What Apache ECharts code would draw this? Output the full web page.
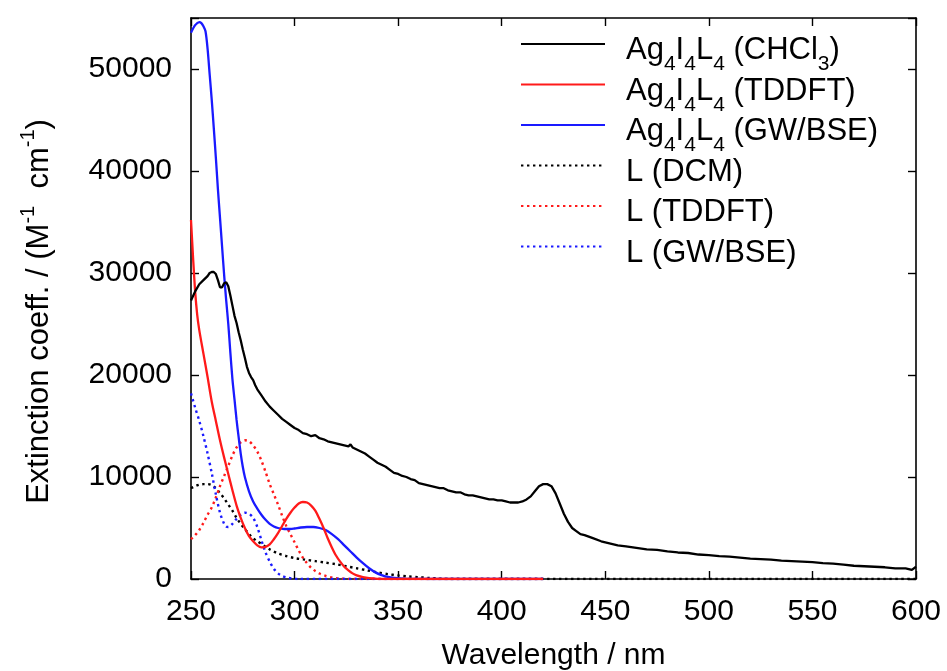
<!DOCTYPE html>
<html>
<head>
<meta charset="utf-8">
<script src="https://cdn.jsdelivr.net/npm/echarts@6/dist/echarts.min.js"></script>
<style>
html,body{margin:0;padding:0;background:#fff;}
#chart{width:947px;height:671px;}
</style>
</head>
<body>
<div id="chart"></div>
<script>
// ---------- DATA ----------
var xTicks = [250, 300, 350, 400, 450, 500, 550, 600];
var yTicks = [0, 10000, 20000, 30000, 40000, 50000];

// Ag4I4L4 (CHCl3) experimental
var wlExp = [250,252,254,256,258,259,260,261,262,263,264,265,266,267,268,269,270,271,272,273,274,275,276,277,278,279,280,281,282,283,284,286,288,290,292,294,296,298,300,302,304,306,308,310,312,314,316,318,320,322,324,326,327,328,330,332,334,336,338,340,342,344,346,348,350,352,354,356,358,360,362,364,366,368,370,372,374,376,378,380,382,384,386,388,390,392,394,396,398,400,402,404,406,408,410,412,414,416,418,420,422,424,426,428,430,432,434,436,438,440,444,448,452,456,460,465,470,475,480,485,490,495,500,505,510,515,520,525,530,535,540,545,550,555,560,565,570,575,580,585,590,595,598,600];
var epsExp = [27300,28200,28900,29300,29700,30000,30100,30100,29900,29300,28600,28600,29000,29100,28700,27800,26800,25800,25100,24200,23400,22500,21700,20800,20200,19800,19500,19000,18600,18300,18000,17400,16900,16500,16100,15700,15400,15100,14800,14600,14300,14200,14000,14100,13800,13700,13500,13400,13300,13200,13100,13000,13200,12900,12700,12500,12300,12000,11700,11400,11200,11000,10700,10400,10300,10100,10000,9800,9700,9400,9300,9200,9100,9000,8900,8900,8700,8600,8500,8500,8300,8200,8200,8100,8000,7900,7800,7800,7700,7700,7600,7500,7500,7500,7600,7800,8100,8600,9100,9300,9300,9100,8400,7400,6400,5600,5000,4700,4400,4300,4000,3700,3500,3300,3200,3050,2900,2850,2700,2600,2550,2400,2350,2250,2200,2100,2000,1950,1900,1800,1750,1700,1650,1550,1500,1400,1300,1250,1200,1150,1050,1050,900,1200];

// Ag4I4L4 (TDDFT)
var wlTdC = [250,251,252,253,254,256,258,260,262,264,266,268,270,272,274,276,278,280,282,284,286,288,290,292,294,296,298,300,302,304,306,308,310,312,314,316,318,320,322,324,326,328,330,333,336,340,345,420];
var epsTdC = [35200,31500,28200,25900,24400,22100,19800,17400,15500,13600,11900,10300,8700,7200,6000,5000,4200,3700,3300,3100,3150,3400,3900,4500,5200,5900,6500,7000,7400,7550,7500,7200,6700,5900,5000,4000,3100,2300,1700,1200,850,550,350,180,80,20,0,0];

// Ag4I4L4 (GW/BSE)
var wlGwC = [250,252,254,255,256,257,258,259,260,261,262,263,264,265,266,267,268,269,270,271,272,273,274,275,276,278,280,282,284,286,288,290,292,295,298,300,303,306,309,312,315,318,321,324,327,330,333,336,339,342,345,348,352,358,365,420];
var epsGwC = [53550,54300,54600,54500,54200,53700,52000,49500,47000,44200,41300,38200,35400,32600,29800,27300,25000,22200,19600,17600,15600,13900,12300,11000,10000,8600,7600,6900,6300,5800,5400,5150,5000,4900,4900,4950,5050,5100,5100,5000,4800,4400,3900,3300,2700,2100,1550,1050,650,380,200,100,40,10,0,0];

// L (DCM)
var wlLdcm = [250,252,254,256,258,260,262,264,266,268,270,272,274,276,278,280,282,285,288,292,296,300,305,310,315,320,325,330,335,340,345,350,355,360,365,370,375,600];
var epsLdcm = [8900,9100,9250,9300,9300,9200,8900,8400,7900,7300,6700,6000,5400,4900,4400,4000,3700,3300,2900,2500,2250,2050,1900,1750,1600,1450,1250,1050,850,650,480,350,250,180,100,40,0,0];

// L (TDDFT)
var wlLtd = [250,252,254,256,258,260,262,264,266,268,270,272,274,276,278,280,282,284,286,288,290,292,294,296,298,300,302,304,306,308,310,312,315,318,322,328,420];
var epsLtd = [3900,4300,4800,5500,6300,7000,8000,9100,10100,11100,12100,12900,13400,13600,13500,13100,12500,11600,10500,9300,8300,7300,6200,5200,4400,3600,2800,2100,1550,1100,780,540,300,150,50,0,0];

// L (GW/BSE)
var wlLgw = [250,252,254,256,258,260,262,264,266,267,268,270,272,274,276,278,280,282,284,286,288,290,292,294,296,299,302,420];
var epsLgw = [18200,16800,15500,14000,12300,10400,8300,6500,5400,5150,5100,5400,5900,6300,6500,6400,6000,5100,3800,2600,1700,1000,560,300,150,40,0,0];

var seriesNames = ['Ag4I4L4 (CHCl3)', 'Ag4I4L4 (TDDFT)', 'Ag4I4L4 (GW/BSE)', 'L (DCM)', 'L (TDDFT)', 'L (GW/BSE)'];
var legendRich = {
  'Ag4I4L4 (CHCl3)': '{n|Ag}{s|4}{n|I}{s|4}{n|L}{s|4}{n| (CHCl}{s|3}{n|)}',
  'Ag4I4L4 (TDDFT)': '{n|Ag}{s|4}{n|I}{s|4}{n|L}{s|4}{n| (TDDFT)}',
  'Ag4I4L4 (GW/BSE)': '{n|Ag}{s|4}{n|I}{s|4}{n|L}{s|4}{n| (GW/BSE)}',
  'L (DCM)': '{n|L (DCM)}',
  'L (TDDFT)': '{n|L (TDDFT)}',
  'L (GW/BSE)': '{n|L (GW/BSE)}'
};

function pairs(xs, ys) { return xs.map(function (x, i) { return [x, ys[i]]; }); }

var FONT = '"Liberation Sans", Arial, Helvetica, sans-serif';
var FS = 30;
var RED = '#ff1a1a', BLUE = '#1a1aff', BLACK = '#000000';

var chart = echarts.init(document.getElementById('chart'), null, {renderer: 'canvas'});

function lineSeries(name, xs, ys, color, dotted, smooth, z) {
  return {
    name: name, type: 'line', data: pairs(xs, ys),
    showSymbol: false, symbol: 'none', smooth: smooth, z: z,
    lineStyle: {color: color, width: dotted ? 2.4 : 2.3, type: dotted ? [2.4, 3.6] : 'solid'},
    itemStyle: {color: color},
    emphasis: {disabled: true}, animation: false
  };
}

var axisCommon = {
  axisLine: {show: true, onZero: false, lineStyle: {color: '#000', width: 1.6}},
  axisTick: {show: true, inside: true, length: 8, lineStyle: {color: '#000', width: 1.4}},
  splitLine: {show: false}
};

chart.setOption({
  backgroundColor: '#fff',
  animation: false,
  textStyle: {fontFamily: FONT},
  grid: {left: 191, right: 31, top: 18, bottom: 92, containLabel: false, outerBoundsMode: 'none'},
  legend: {
    orient: 'vertical', left: 520, top: 29, itemWidth: 84, itemHeight: 30, itemGap: -6.5,
    align: 'left', padding: 0,
    itemStyle: {opacity: 0},
    data: seriesNames,
    formatter: function (name) { return legendRich[name]; },
    textStyle: {
      fontFamily: FONT, color: '#000', padding: [0, 0, 0, 16],
      rich: {
        n: {fontSize: 31, fontFamily: FONT, color: '#000', lineHeight: 30, padding: [6, 0, 10, 0], verticalAlign: 'top'},
        s: {fontSize: 21, fontFamily: FONT, color: '#000', lineHeight: 14, padding: [25, 0, 0, 0], verticalAlign: 'top'}
      }
    }
  },
  xAxis: [
    Object.assign({
      type: 'value', min: 250, max: 600, interval: 50, position: 'bottom',
      name: 'Wavelength / nm', nameLocation: 'middle', nameGap: 62,
      nameTextStyle: {fontSize: FS, fontFamily: FONT, color: '#000'},
      axisLabel: {fontSize: FS, fontFamily: FONT, color: '#000', margin: 18,
        formatter: function (v) { return String(v); }}
    }, axisCommon),
    Object.assign({
      type: 'value', min: 250, max: 600, interval: 50, position: 'top',
      axisLabel: {show: false}
    }, axisCommon)
  ],
  yAxis: [
    Object.assign({
      type: 'value', min: 0, max: 55000, interval: 10000, position: 'left',
      name: '{n|Extinction coeff. / (M}{p|-1}{n|  cm}{p|-1}{n|)}',
      nameLocation: 'middle', nameGap: 142,
      nameTextStyle: {
        fontSize: 31, fontFamily: FONT, color: '#000', padding: [0, 26, 0, 0],
        rich: {
          n: {fontSize: 31, fontFamily: FONT, color: '#000', lineHeight: 31, padding: [6, 0, 0, 0], verticalAlign: 'top'},
          p: {fontSize: 20, fontFamily: FONT, color: '#000', lineHeight: 20, verticalAlign: 'top'}
        }
      },
      axisLabel: {fontSize: FS, fontFamily: FONT, color: '#000', margin: 19,
        formatter: function (v) { return v > 50000 ? '' : String(v); }}
    }, axisCommon),
    Object.assign({
      type: 'value', min: 0, max: 55000, interval: 10000, position: 'right',
      axisLabel: {show: false}
    }, axisCommon)
  ],
  series: [
    lineSeries(seriesNames[0], wlExp, epsExp, BLACK, false, false, 6),
    lineSeries(seriesNames[1], wlTdC, epsTdC, RED, false, 0.3, 5),
    lineSeries(seriesNames[2], wlGwC, epsGwC, BLUE, false, 0.3, 4),
    lineSeries(seriesNames[3], wlLdcm, epsLdcm, BLACK, true, 0.3, 3),
    lineSeries(seriesNames[4], wlLtd, epsLtd, RED, true, 0.3, 3),
    lineSeries(seriesNames[5], wlLgw, epsLgw, BLUE, true, 0.3, 3)
  ]
});
</script>
</body>
</html>
